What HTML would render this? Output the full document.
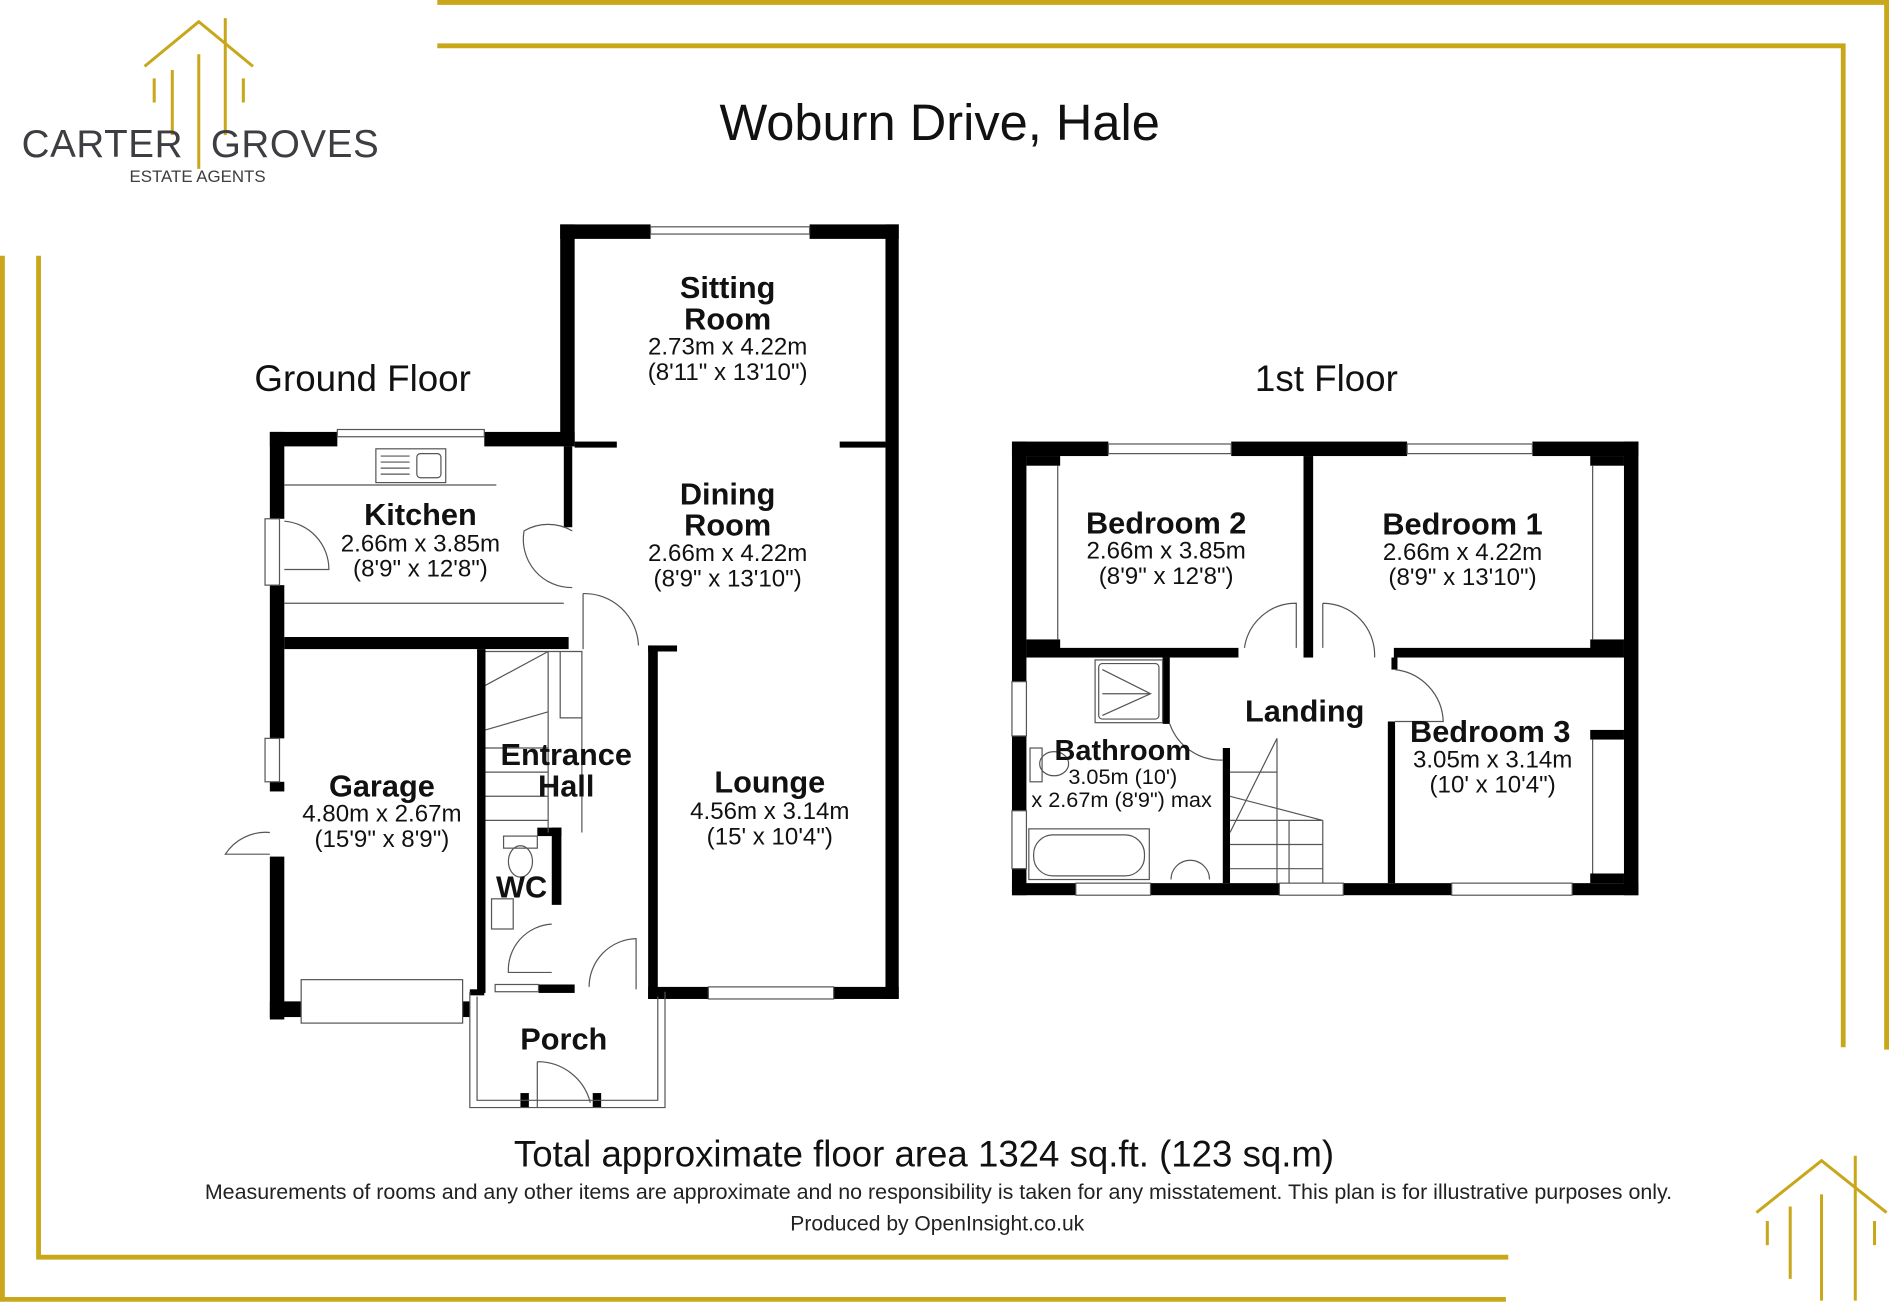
<!DOCTYPE html>
<html><head><meta charset="utf-8"><style>
html,body{margin:0;padding:0;background:#fff;}
svg{display:block}
.n{font-family:"Liberation Sans",Arial,sans-serif;font-weight:bold;font-size:25.5px;fill:#111;text-anchor:middle}
.d{font-family:"Liberation Sans",Arial,sans-serif;font-size:20px;fill:#111;text-anchor:middle}
.w{fill:#000}
.t{fill:none;stroke:#555;stroke-width:1}
.g{stroke:#c9a71a;fill:none}
</style></head><body>
<svg width="1889" height="1303" viewBox="0 0 1568 1080" preserveAspectRatio="none" xmlns="http://www.w3.org/2000/svg">
<g class="g" stroke-width="4">
<path d="M363 2 H1566 V870"/>
<path d="M363 38 H1530 V868"/>
<path d="M2 212 V1077 H1250"/>
<path d="M32 212 V1042 H1252"/>
</g>
<g class="g" stroke-width="2.5">
<path d="M120 55 L165 18 L210 55"/>
<path d="M165 45 V140 M187 15 V112 M143 58 V112 M128 65 V85 M202 65 V85"/>
</g>
<text x="18" y="130" font-family="Liberation Sans,Arial,sans-serif" font-size="32" fill="#3d3d42" letter-spacing="0.5">CARTER</text>
<text x="175" y="130" font-family="Liberation Sans,Arial,sans-serif" font-size="32" fill="#3d3d42" letter-spacing="0.5">GROVES</text>
<text x="164" y="151" font-family="Liberation Sans,Arial,sans-serif" font-size="14" fill="#3d3d42" text-anchor="middle">ESTATE AGENTS</text>
<g class="g" stroke-width="2.5">
<path d="M1458 1005 L1512 962 L1566 1005"/>
<path d="M1512 990 V1078 M1540 958 V1078 M1486 1000 V1060 M1467 1012 V1032 M1556 1012 V1032"/>
</g>
<text x="780" y="116" font-family="Liberation Sans,Arial,sans-serif" font-size="42" fill="#111" text-anchor="middle">Woburn Drive, Hale</text>
<text x="301" y="324" font-family="Liberation Sans,Arial,sans-serif" font-size="30.5" fill="#111" text-anchor="middle">Ground Floor</text>
<text x="1101" y="324" font-family="Liberation Sans,Arial,sans-serif" font-size="30.5" fill="#111" text-anchor="middle">1st Floor</text>

<g class="w">
<rect x="465" y="186" width="12" height="182"/>
<rect x="465" y="186" width="75" height="12"/>
<rect x="672" y="186" width="74" height="12"/>
<rect x="735" y="186" width="11" height="642"/>
<rect x="477" y="366" width="35" height="5"/>
<rect x="697" y="366" width="38" height="5"/>
<rect x="538" y="535" width="8" height="293"/>
<rect x="538" y="535" width="24" height="5"/>
<rect x="538" y="818" width="50" height="10"/>
<rect x="692" y="818" width="54" height="10"/>
<rect x="224" y="358" width="56" height="12"/>
<rect x="402" y="358" width="75" height="12"/>
<rect x="224" y="358" width="12" height="72"/>
<rect x="224" y="485" width="12" height="127"/>
<rect x="224" y="648" width="12" height="8"/>
<rect x="224" y="710" width="12" height="135"/>
<rect x="468" y="370" width="7" height="67"/>
<rect x="236" y="528" width="236" height="10"/>
<rect x="224" y="830" width="26" height="13"/>
<rect x="384" y="830" width="6" height="13"/>
<rect x="396" y="538" width="7" height="285"/>
<rect x="458" y="686" width="8" height="64"/>
<rect x="446" y="686" width="20" height="7"/>
<rect x="447" y="816" width="30" height="7"/>
<rect x="390" y="820" width="12" height="5"/>
<rect x="432" y="906" width="7" height="12"/>
<rect x="492" y="906" width="7" height="12"/>
</g>
<g class="t">
<rect x="540" y="188" width="132" height="6"/>
<rect x="280" y="356" width="122" height="6"/>
<rect x="312" y="372" width="58" height="28"/>
<rect x="346" y="376" width="20" height="20" rx="3"/>
<path d="M316 378 H340 M316 383 H340 M316 388 H340 M316 393 H340"/>
<line x1="236" y1="402" x2="412" y2="402"/>
<line x1="236" y1="500" x2="468" y2="500"/>
<rect x="220" y="430" width="12" height="55"/>
<path d="M236 432 A40 40 0 0 1 273 472 H236"/>
<path d="M475 440 A40 40 0 0 0 435 440 A40 40 0 0 0 475 487"/>
<path d="M484 492 A45 45 0 0 1 530 535 M484 492 V538"/>
<rect x="220" y="612" width="12" height="36"/>
<path d="M224 690 A40 40 0 0 0 187 708 H224"/>
<rect x="250" y="812" width="134" height="36"/>
<rect x="588" y="818" width="104" height="10"/>
<path d="M403 540 H483 V690 M403 568 L455 540 M403 605 L455 590 M403 620 H455 M403 640 H455 M403 660 H455 M403 680 H455 M455 540 V690 M465 540 V595 H483"/>
<ellipse cx="432" cy="714" rx="10" ry="13"/>
<rect x="418" y="693" width="28" height="10"/>
<rect x="408" y="745" width="18" height="25"/>
<path d="M458 766 A38 38 0 0 0 422 806 H458"/>
<path d="M489 818 A40 40 0 0 1 528 778 V820"/>
<rect x="411" y="816" width="36" height="6"/>
<path d="M390 822 V918 H552 V822 M396 826 V912 H546 V826"/>
<path d="M446 880 A45 45 0 0 1 490 914 M446 880 V918"/>
</g>
<text class="n" x="604" y="247">Sitting</text>
<text class="n" x="604" y="273">Room</text>
<text class="d" x="604" y="294">2.73m x 4.22m</text>
<text class="d" x="604" y="315">(8'11" x 13'10")</text>
<text class="n" x="604" y="418">Dining</text>
<text class="n" x="604" y="444">Room</text>
<text class="d" x="604" y="465">2.66m x 4.22m</text>
<text class="d" x="604" y="486">(8'9" x 13'10")</text>
<text class="n" x="349" y="435">Kitchen</text>
<text class="d" x="349" y="457">2.66m x 3.85m</text>
<text class="d" x="349" y="478">(8'9" x 12'8")</text>
<text class="n" x="317" y="660">Garage</text>
<text class="d" x="317" y="681">4.80m x 2.67m</text>
<text class="d" x="317" y="702">(15'9" x 8'9")</text>
<text class="n" x="470" y="634">Entrance</text>
<text class="n" x="470" y="660">Hall</text>
<text class="n" x="639" y="657">Lounge</text>
<text class="d" x="639" y="679">4.56m x 3.14m</text>
<text class="d" x="639" y="700">(15' x 10'4")</text>
<text class="n" x="433" y="744">WC</text>
<text class="n" x="468" y="870">Porch</text>

<g class="w">
<rect x="840" y="366" width="80" height="12"/>
<rect x="1022" y="366" width="146" height="12"/>
<rect x="1272" y="366" width="88" height="12"/>
<rect x="840" y="366" width="12" height="199"/>
<rect x="840" y="610" width="12" height="62"/>
<rect x="840" y="720" width="12" height="22"/>
<rect x="1348" y="366" width="12" height="376"/>
<rect x="852" y="378" width="28" height="8"/>
<rect x="852" y="530" width="28" height="8"/>
<rect x="1082" y="378" width="8" height="167"/>
<rect x="852" y="537" width="176" height="8"/>
<rect x="1157" y="537" width="191" height="8"/>
<rect x="1155" y="545" width="5" height="10"/>
<rect x="965" y="545" width="6" height="55"/>
<rect x="1015" y="620" width="6" height="112"/>
<rect x="1152" y="598" width="6" height="134"/>
<rect x="1320" y="378" width="28" height="8"/>
<rect x="1320" y="530" width="28" height="8"/>
<rect x="1320" y="605" width="28" height="8"/>
<rect x="1320" y="724" width="28" height="8"/>
<rect x="840" y="732" width="53" height="10"/>
<rect x="955" y="732" width="107" height="10"/>
<rect x="1115" y="732" width="90" height="10"/>
<rect x="1305" y="732" width="55" height="10"/>
</g>
<g class="t">
<rect x="920" y="368" width="102" height="8"/>
<rect x="1168" y="368" width="104" height="8"/>
<rect x="893" y="732" width="62" height="10"/>
<rect x="1062" y="732" width="53" height="10"/>
<rect x="1205" y="732" width="100" height="10"/>
<rect x="840" y="565" width="12" height="45"/>
<rect x="840" y="672" width="12" height="48"/>
<path d="M878 386 V530 M1322 386 V530 M1322 613 V724"/>
<path d="M1033 537 A43 43 0 0 1 1076 500 V537"/>
<path d="M1098 500 A43 43 0 0 1 1141 545 M1098 500 V537"/>
<path d="M1158 555 A45 45 0 0 1 1198 598 H1158"/>
<path d="M971 600 A45 45 0 0 0 1015 630"/>
<rect x="909" y="547" width="56" height="52"/>
<rect x="912" y="550" width="50" height="46" rx="3"/>
<path d="M915 555 L955 575 L915 593 M915 575 H955"/>
<ellipse cx="875" cy="633" rx="12" ry="10"/>
<rect x="855" y="620" width="10" height="28"/>
<rect x="854" y="687" width="100" height="42"/>
<rect x="858" y="692" width="92" height="34" rx="16"/>
<path d="M972 729 A16 16 0 0 1 1004 729"/>
<path d="M1021 690 L1060 612 V732 M1021 660 L1098 680 M1021 680 H1098 M1021 700 H1098 M1021 720 H1098 M1070 680 V732 M1098 680 V732 M1021 640 H1060"/>
</g>
<text class="n" x="968" y="442">Bedroom 2</text>
<text class="d" x="968" y="463">2.66m x 3.85m</text>
<text class="d" x="968" y="484">(8'9" x 12'8")</text>
<text class="n" x="1214" y="443">Bedroom 1</text>
<text class="d" x="1214" y="464">2.66m x 4.22m</text>
<text class="d" x="1214" y="485">(8'9" x 13'10")</text>
<text class="n" x="1083" y="598">Landing</text>
<text class="n" x="1237" y="615">Bedroom 3</text>
<text class="d" x="1239" y="636">3.05m x 3.14m</text>
<text class="d" x="1239" y="657">(10' x 10'4")</text>
<text class="n" x="932" y="630" style="font-size:24px">Bathroom</text>
<text class="d" x="932" y="650" style="font-size:18px">3.05m (10')</text>
<text class="d" x="931" y="669" style="font-size:18px">x 2.67m (8'9") max</text>

<text x="767" y="967" font-family="Liberation Sans,Arial,sans-serif" font-size="30.4" fill="#111" text-anchor="middle">Total approximate floor area 1324 sq.ft. (123 sq.m)</text>
<text x="779" y="994" font-family="Liberation Sans,Arial,sans-serif" font-size="17.8" fill="#222" text-anchor="middle">Measurements of rooms and any other items are approximate and no responsibility is taken for any misstatement. This plan is for illustrative purposes only.</text>
<text x="778" y="1020" font-family="Liberation Sans,Arial,sans-serif" font-size="17.5" fill="#222" text-anchor="middle">Produced by OpenInsight.co.uk</text>
</svg>
</body></html>
